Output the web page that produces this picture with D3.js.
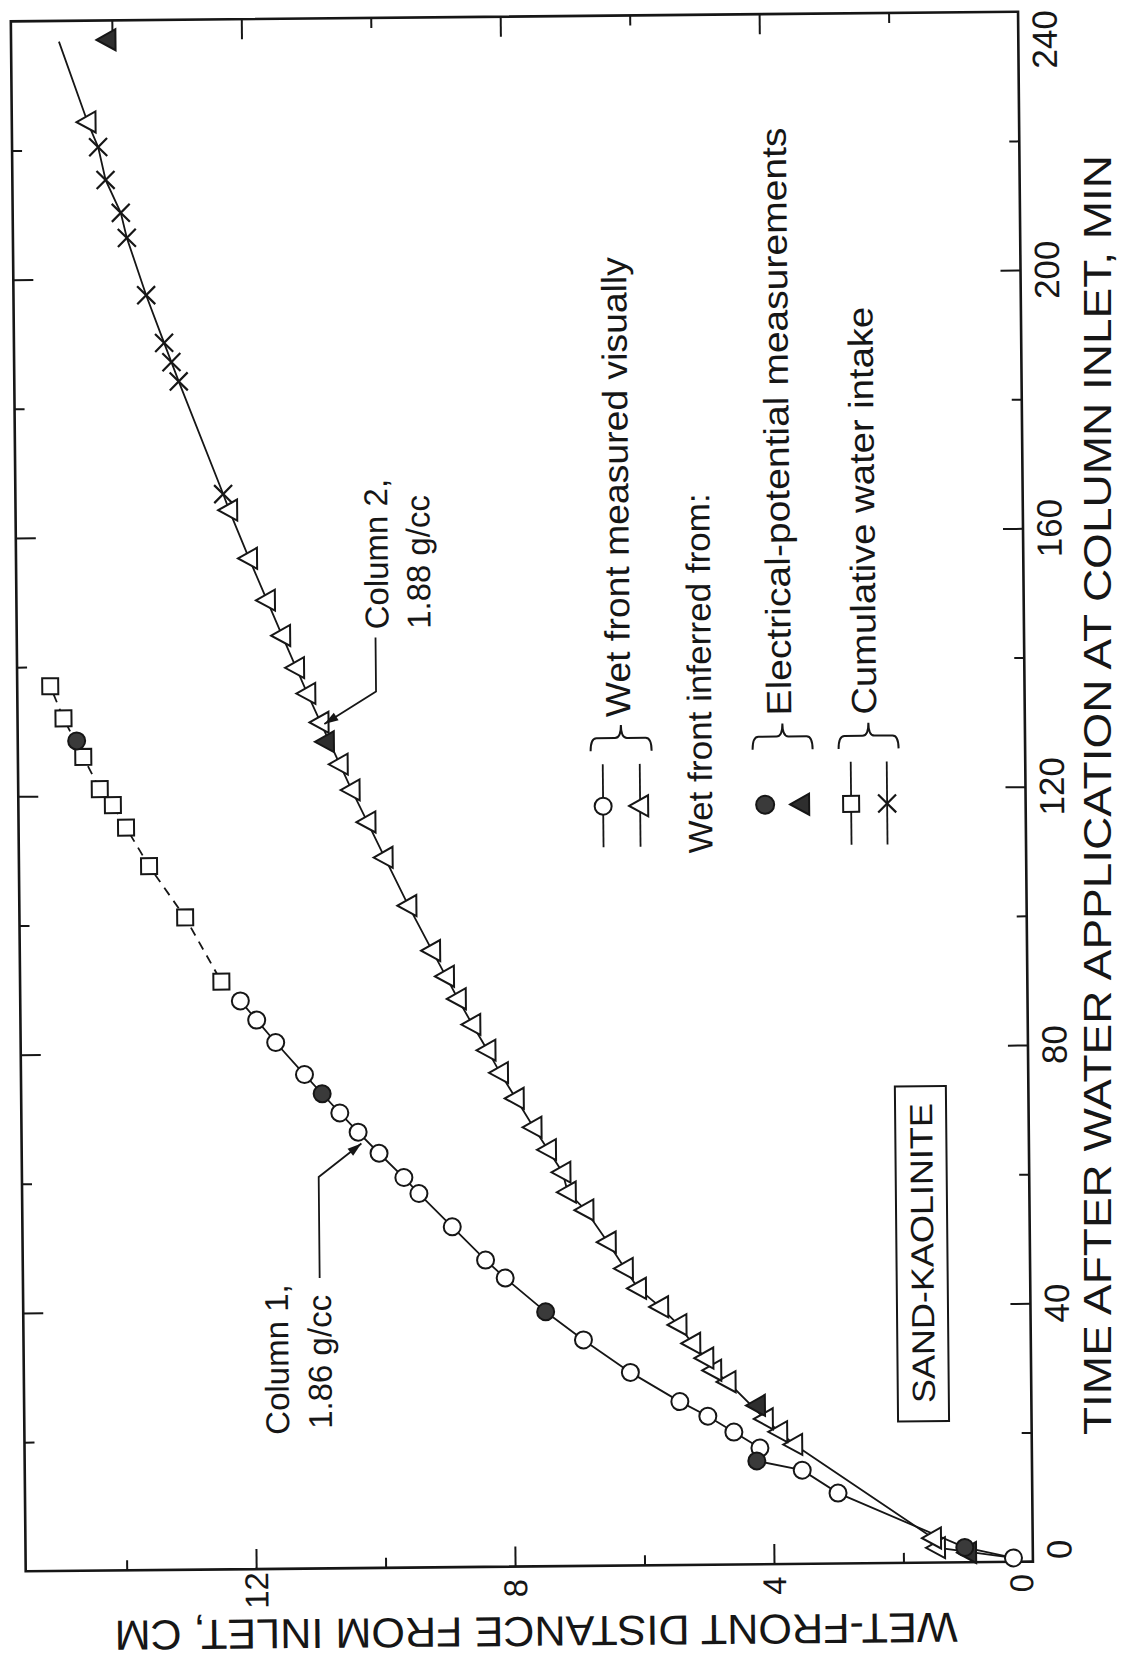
<!DOCTYPE html>
<html>
<head>
<meta charset="utf-8">
<script src="https://cdn.jsdelivr.net/npm/d3@7/dist/d3.min.js"></script>
<style>
  body { margin: 0; background: #fff; }
  svg { display: block; }
  text { font-family: "Liberation Sans", Arial, sans-serif; fill: #161616; }
</style>
</head>
<body>
<svg id="chart" width="1121" height="1665"></svg>
<script>
// Wet-front advance in sand-kaolinite columns: time (min) vs distance (cm)

// Column 1 (1.86 g/cc)
const col1VisTime = [0.6, 10.9, 14.5, 18, 20.5, 23, 25.3, 29.9, 35.0, 44.7, 47.5, 52.7, 57.9, 60.4, 64.2, 67.5, 70.5, 76.5, 81.5, 85, 88];
const col1VisDist = [0.3, 3.0, 3.55, 4.2, 4.6, 5.0, 5.43, 6.19, 6.91, 8.11, 8.41, 8.92, 9.43, 9.66, 10.04, 10.36, 10.64, 11.18, 11.62, 11.91, 12.16];
const col1ElecTime = [2.3, 16, 39.4, 73.5, 128.5];
const col1ElecDist = [1.05, 4.25, 7.49, 10.91, 14.65];
const col1CumTime = [91, 101, 109, 115, 118.5, 121, 126, 132, 137];
const col1CumDist = [12.45, 13.0, 13.55, 13.9, 14.1, 14.3, 14.55, 14.85, 15.05];

// Column 2 (1.88 g/cc)
const col2VisTime = [2.3, 3.8, 18.5, 20.5, 22.5, 28.3, 30.1, 32.0, 34.3, 37.2, 40.0, 42.9, 46.0, 50.1, 55.1, 57.9, 61.0, 64.5, 68, 72.5, 76.5, 80, 84, 88, 91.5, 95.5, 102.5, 110, 115.5, 120.5, 124.5, 131, 135.5, 139.5, 144.5, 150, 156.5, 164, 224.3];
const col2VisDist = [1.48, 1.54, 3.67, 3.9, 4.12, 4.69, 4.91, 5.03, 5.23, 5.44, 5.72, 6.06, 6.26, 6.52, 6.86, 7.13, 7.21, 7.43, 7.65, 7.92, 8.16, 8.35, 8.58, 8.8, 8.98, 9.19, 9.55, 9.91, 10.17, 10.41, 10.59, 10.88, 11.08, 11.25, 11.46, 11.69, 11.96, 12.26, 14.39];
const col2ElecTime = [1.5, 24.6, 128, 237];
const col2ElecDist = [1.0, 4.24, 10.8, 14.07];
const col2CumTime = [166.5, 184, 187, 190, 197.4, 206.3, 210.2, 215.3, 220.4];
const col2CumDist = [12.35, 13.02, 13.13, 13.24, 13.51, 13.8, 13.89, 14.12, 14.23];
const col2TrendTime = [236.8];
const col2TrendDist = [14.82];

// Axis ticks and labels
const timeMajor = [0, 40, 80, 120, 160, 200, 240];
const timeMinor = [20, 60, 100, 140, 180, 220];
const distMajor = [0, 4, 8, 12];
const distMinor = [2, 6, 10, 14];

const timeTitle = "TIME AFTER WATER APPLICATION AT COLUMN INLET, MIN";
const distTitle = "WET-FRONT DISTANCE FROM INLET, CM";
const legendItems = ["Wet front measured visually", "Electrical-potential measurements", "Cumulative water intake"];
const legendHeader = "Wet front inferred from:";
const boxLabel = "SAND-KAOLINITE";

const zip = (ts, ds) => ts.map((t, i) => ({ t, d: ds[i] }));
const col1Vis = zip(col1VisTime, col1VisDist);
const col1Elec = zip(col1ElecTime, col1ElecDist);
const col1Cum = zip(col1CumTime, col1CumDist);
const col2Vis = zip(col2VisTime, col2VisDist);
const col2Elec = zip(col2ElecTime, col2ElecDist);
const col2Cum = zip(col2CumTime, col2CumDist);
const col2Trend = zip(col2TrendTime, col2TrendDist);

const svg = d3.select("#chart");
svg.append("rect").attr("width", 1121).attr("height", 1665).attr("fill", "#fff");

// The page is laid out sideways: time runs up the page, distance runs right-to-left.
const tScale = d3.scaleLinear().domain([0, 240]).range([1566.5, 16.5]);
const dScale = d3.scaleLinear().domain([0, 15.56]).range([1025.5, 18.25]);

const g = svg.append("g").attr("transform", "rotate(-0.55 522 791.5)");
const ink = "#161616";

// frame
g.append("rect")
  .attr("x", dScale(15.56)).attr("y", tScale(240))
  .attr("width", dScale(0) - dScale(15.56)).attr("height", tScale(0) - tScale(240))
  .attr("fill", "none").attr("stroke", ink).attr("stroke-width", 2.6);

function tickAxis(axis, transform) {
  const a = g.append("g").attr("transform", transform).call(axis);
  a.select(".domain").remove();
  a.selectAll("line").attr("stroke", ink).attr("stroke-width", 2);
  a.selectAll("text").remove();
}
// time ticks on both long sides, pointing inward
tickAxis(d3.axisLeft(tScale).tickValues(timeMajor.slice(1, -1)).tickSize(20), `translate(${dScale(0)},0)`);
tickAxis(d3.axisLeft(tScale).tickValues(timeMinor).tickSize(10), `translate(${dScale(0)},0)`);
tickAxis(d3.axisRight(tScale).tickValues(timeMajor.slice(1, -1)).tickSize(20), `translate(${dScale(15.56)},0)`);
tickAxis(d3.axisRight(tScale).tickValues(timeMinor).tickSize(10), `translate(${dScale(15.56)},0)`);
// distance ticks on both short sides
tickAxis(d3.axisTop(dScale).tickValues(distMajor.slice(1)).tickSize(20), `translate(0,${tScale(0)})`);
tickAxis(d3.axisTop(dScale).tickValues(distMinor).tickSize(10), `translate(0,${tScale(0)})`);
tickAxis(d3.axisBottom(dScale).tickValues(distMajor.slice(1)).tickSize(20), `translate(0,${tScale(240)})`);
tickAxis(d3.axisBottom(dScale).tickValues(distMinor).tickSize(10), `translate(0,${tScale(240)})`);

// text helper: rotated -90 reads bottom-to-top
function vText(x, y, str, size, anchor, len, parent) {
  const t = (parent || g).append("text")
    .attr("transform", `translate(${x},${y}) rotate(-90)`)
    .attr("text-anchor", anchor || "middle")
    .attr("font-size", size)
    .text(str);
  if (len) t.attr("textLength", len).attr("lengthAdjust", "spacingAndGlyphs");
  return t;
}

// time tick labels (outside right edge)
timeMajor.forEach(v => {
  let y = tScale(v);
  if (v === 0) y -= 12;
  if (v === 240) y += 28;
  vText(1064, y, String(v), 35, "middle");
});
// distance tick labels (below bottom edge)
distMajor.forEach(v => {
  let x = dScale(v);
  if (v === 0) x -= 12;
  vText(x + 12, 1588, String(v), 33, "middle");
});

// axis titles
vText(1111, 795, timeTitle, 39, "middle", 1280, svg);
g.append("text")
  .attr("transform", `translate(528,1617) rotate(180)`)
  .attr("text-anchor", "middle").attr("font-size", 42)
  .attr("textLength", 843).attr("lengthAdjust", "spacingAndGlyphs")
  .text(distTitle);

// curves
const line = d3.line().x(p => dScale(p.d)).y(p => tScale(p.t));
const byTime = (a, b) => a.t - b.t;

const col1Path = [...col1Vis, ...col1Elec.filter(p => p.t < 88)].sort(byTime);
g.append("path").attr("d", line(col1Path))
  .attr("fill", "none").attr("stroke", ink).attr("stroke-width", 1.8);
const col1Dash = [col1Vis[col1Vis.length - 1], ...col1Cum].sort(byTime);
g.append("path").attr("d", line(col1Dash))
  .attr("fill", "none").attr("stroke", ink).attr("stroke-width", 1.8)
  .attr("stroke-dasharray", "9,7");

const col2Path = [col1Vis[0], ...col2Vis, ...col2Cum, ...col2Trend].sort(byTime);
g.append("path").attr("d", line(col2Path))
  .attr("fill", "none").attr("stroke", ink).attr("stroke-width", 1.8);

// marker shapes (triangles point toward increasing distance)
const triPath = "M-11,0L8,-10.5L8,10.5Z";
function drawCircles(data, filled, r) {
  g.selectAll(null).data(data).join("circle")
    .attr("cx", p => dScale(p.d)).attr("cy", p => tScale(p.t)).attr("r", r || 8.5)
    .attr("fill", filled ? "#3a3a3a" : "#fff").attr("stroke", ink).attr("stroke-width", 2);
}
function drawTris(data, filled) {
  g.selectAll(null).data(data).join("path")
    .attr("d", triPath)
    .attr("transform", p => `translate(${dScale(p.d)},${tScale(p.t)})`)
    .attr("fill", filled ? "#2e2e2e" : "#fff").attr("stroke", ink).attr("stroke-width", 2);
}
function drawSquares(data) {
  g.selectAll(null).data(data).join("rect")
    .attr("x", p => dScale(p.d) - 8).attr("y", p => tScale(p.t) - 8)
    .attr("width", 16).attr("height", 16)
    .attr("fill", "#fff").attr("stroke", ink).attr("stroke-width", 2);
}
function drawCrosses(data) {
  g.selectAll(null).data(data).join("path")
    .attr("d", "M-9,-9L9,9M-9,9L9,-9")
    .attr("transform", p => `translate(${dScale(p.d)},${tScale(p.t)})`)
    .attr("fill", "none").attr("stroke", ink).attr("stroke-width", 2.2);
}

drawTris(col2Vis, false);
drawCrosses(col2Cum);
drawTris(col2Elec, true);
drawCircles(col1Vis, false);
drawSquares(col1Cum);
drawCircles(col1Elec, true);

// legend (symbols stacked as columns, brace, then text)
function brace(x1, x2, y, h) {
  const xm = (x1 + x2) / 2, r = 6, ym = y - h / 2;
  return `M${x1},${y} Q${x1},${ym} ${x1 + r},${ym} L${xm - r},${ym} Q${xm},${ym} ${xm},${y - h}` +
         ` Q${xm},${ym} ${xm + r},${ym} L${x2 - r},${ym} Q${x2},${ym} ${x2},${y}`;
}
function legendStroke(x) {
  g.append("line").attr("x1", x).attr("x2", x).attr("y1", 765).attr("y2", 848)
    .attr("stroke", ink).attr("stroke-width", 1.8);
}
const symY = 807;
const legendGroups = [
  { xs: [603, 640], text: legendItems[0], tx: 631, len: 460 },
  { xs: [765, 801], text: legendItems[1], tx: 792, len: 588 },
  { xs: [851, 887], text: legendItems[2], tx: 877, len: 408 }
];
legendGroups.forEach((lg, i) => {
  g.append("path").attr("d", brace(lg.xs[0] - 12, lg.xs[1] + 12, 752, 26))
    .attr("fill", "none").attr("stroke", ink).attr("stroke-width", 2);
  vText(lg.tx, 718, lg.text, 35, "start", lg.len);
  if (i !== 1) { legendStroke(lg.xs[0]); legendStroke(lg.xs[1]); }
});
// symbols inside the legend
g.append("circle").attr("cx", 603).attr("cy", symY).attr("r", 8.5).attr("fill", "#fff").attr("stroke", ink).attr("stroke-width", 2);
g.append("path").attr("d", triPath).attr("transform", `translate(640,${symY})`).attr("fill", "#fff").attr("stroke", ink).attr("stroke-width", 2);
g.append("circle").attr("cx", 765).attr("cy", symY).attr("r", 9).attr("fill", "#3a3a3a").attr("stroke", ink).attr("stroke-width", 2);
g.append("path").attr("d", triPath).attr("transform", `translate(801,${symY})`).attr("fill", "#2e2e2e").attr("stroke", ink).attr("stroke-width", 2);
g.append("rect").attr("x", 843).attr("y", symY - 8).attr("width", 16).attr("height", 16).attr("fill", "#fff").attr("stroke", ink).attr("stroke-width", 2);
g.append("path").attr("d", "M-9,-9L9,9M-9,9L9,-9").attr("transform", `translate(887,${symY})`).attr("fill", "none").attr("stroke", ink).attr("stroke-width", 2.2);
vText(712, 855, legendHeader, 34, "start", 360);

// SAND-KAOLINITE box
g.append("rect").attr("x", 892).attr("y", 1090).attr("width", 51).attr("height", 335)
  .attr("fill", "none").attr("stroke", ink).attr("stroke-width", 2);
vText(929, 1257, boxLabel, 32, "middle", 300);

// curve labels with leader arrows
function arrowHead(x, y, fromX, fromY) {
  const ang = Math.atan2(y - fromY, x - fromX) * 180 / Math.PI;
  g.append("path").attr("d", "M0,0L-14,-4.5L-14,4.5Z")
    .attr("transform", `translate(${x},${y}) rotate(${ang})`).attr("fill", ink);
}
vText(283, 1282, "Column 1,", 33, "end");
vText(326, 1293, "1.86 g/cc", 33, "end");
g.append("path").attr("d", "M315,1276 L315,1175 L358,1142")
  .attr("fill", "none").attr("stroke", ink).attr("stroke-width", 1.8);
arrowHead(358, 1142, 315, 1175);

vText(390, 628, "Column 2,", 33, "start");
vText(432, 628, "1.88 g/cc", 33, "start");
g.append("path").attr("d", "M377,636 L377,690 L325,722")
  .attr("fill", "none").attr("stroke", ink).attr("stroke-width", 1.8);
arrowHead(325, 722, 377, 690);
</script>
</body>
</html>
